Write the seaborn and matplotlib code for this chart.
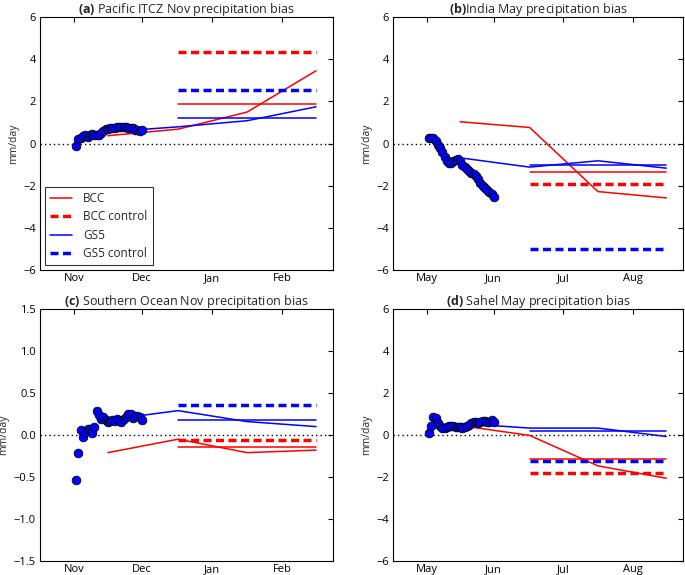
import numpy as np
import pandas as pd
import matplotlib
matplotlib.use("Agg")
import matplotlib.pyplot as plt
from matplotlib.lines import Line2D
import seaborn as sns

sns.set_style("white")
FONT = "Open Sans"
plt.rcParams["font.family"] = [FONT, "DejaVu Sans"]
plt.rcParams["mathtext.fontset"] = "custom"
plt.rcParams["mathtext.bf"] = FONT + ":bold"
plt.rcParams["mathtext.rm"] = FONT

# ---------------- data ----------------
obs_days = list(range(1, 31))
model_days = [15, 46, 76.5, 107]
mean_days = [46, 107]

titles = ["(a)", "(b)", "(c)", "(d)"]
subtitles = [" Pacific ITCZ Nov precipitation bias", "India May precipitation bias",
             " Southern Ocean Nov precipitation bias", " Sahel May precipitation bias"]
month_labels = [["Nov", "Dec", "Jan", "Feb"], ["May", "Jun", "Jul", "Aug"],
                ["Nov", "Dec", "Jan", "Feb"], ["May", "Jun", "Jul", "Aug"]]
month_ticks = [0, 30, 61, 92]

obs_a = [-0.1, 0.2, 0.28, 0.35, 0.38, 0.3, 0.38, 0.45, 0.4, 0.38, 0.42, 0.48, 0.6, 0.7, 0.68,
         0.72, 0.75, 0.75, 0.78, 0.78, 0.76, 0.78, 0.76, 0.75, 0.74, 0.72, 0.65, 0.62, 0.6, 0.62]
obs_b = [0.27, 0.27, 0.25, 0.12, -0.05, -0.2, -0.4, -0.62, -0.82, -0.92, -0.92, -0.85, -0.78, -0.74,
         -0.85, -1.02, -1.12, -1.22, -1.3, -1.38, -1.47, -1.55, -1.68, -1.85, -2.0, -2.12, -2.2,
         -2.3, -2.4, -2.54]
obs_c = [-0.53, -0.22, 0.06, -0.02, 0.03, 0.07, 0.07, 0.02, 0.1, 0.28, 0.24, 0.19, 0.22, 0.18,
         0.15, 0.17, 0.18, 0.17, 0.19, 0.18, 0.15, 0.19, 0.22, 0.25, 0.25, 0.2, 0.23, 0.23, 0.22, 0.18]
obs_d = [0.1, 0.45, 0.88, 0.8, 0.57, 0.42, 0.35, 0.35, 0.4, 0.45, 0.45, 0.42, 0.4, 0.4, 0.38,
         0.35, 0.4, 0.45, 0.5, 0.55, 0.6, 0.6, 0.55, 0.6, 0.65, 0.65, 0.6, 0.62, 0.7, 0.62]

bcc_a = [0.37, 0.68, 1.49, 3.45]
gs5_a = [0.55, 0.79, 1.08, 1.74]
bcc_b = [1.03, 0.76, -2.28, -2.58]
gs5_b = [-0.68, -1.12, -0.82, -1.17]
bcc_c = [-0.21, -0.05, -0.21, -0.18]
gs5_c = [0.18, 0.29, 0.16, 0.10]
bcc_d = [0.45, -0.02, -1.47, -2.06]
gs5_d = [0.55, 0.33, 0.33, -0.07]

bcc_mean = [1.88, -1.37, -0.145, -1.15]
gs5_mean = [1.19, -1.04, 0.18, 0.20]
bcc_ctrl = [4.32, -1.93, -0.065, -1.83]
gs5_ctrl = [2.55, -5.0, 0.36, -1.23]

obs_all = [obs_a, obs_b, obs_c, obs_d]
bcc_all = [bcc_a, bcc_b, bcc_c, bcc_d]
gs5_all = [gs5_a, gs5_b, gs5_c, gs5_d]
ylims = [(-6, 6), (-6, 6), (-1.5, 1.5), (-6, 6)]
yticks = [np.arange(-6, 7, 2), np.arange(-6, 7, 2), np.arange(-1.5, 1.51, 0.5), np.arange(-6, 7, 2)]

# ---------------- figure ----------------
W, H = 685, 575
fig = plt.figure(figsize=(W / 100, H / 100), dpi=100)
boxes = [(40, 17, 333, 270), (393, 17, 683, 270), (40, 309, 333, 561), (393, 309, 683, 561)]
RED, BLUE = "#ff0000", "#0000ff"
DASH = (0, (2.3, 1.3))

for i, (l, t, r, b) in enumerate(boxes):
    ax = fig.add_axes([l / W, (H - b) / H, (r - l) / W, (b - t) / H])
    ax.axhline(0, color="black", ls=(0, (1, 2.2)), lw=1.0, zorder=1)

    sns.lineplot(x=model_days, y=bcc_all[i], color=RED, lw=1.1, ax=ax, sort=False,
                 errorbar=None, zorder=2)
    sns.lineplot(x=model_days, y=gs5_all[i], color=BLUE, lw=1.1, ax=ax, sort=False,
                 errorbar=None, zorder=2)
    sns.lineplot(x=mean_days, y=[bcc_mean[i]] * 2, color=RED, lw=1.1, ax=ax,
                 errorbar=None, zorder=2)
    sns.lineplot(x=mean_days, y=[gs5_mean[i]] * 2, color=BLUE, lw=1.1, ax=ax,
                 errorbar=None, zorder=2)
    sns.lineplot(x=mean_days, y=[bcc_ctrl[i]] * 2, color=RED, lw=2.5, linestyle=DASH,
                 ax=ax, errorbar=None, zorder=2)
    sns.lineplot(x=mean_days, y=[gs5_ctrl[i]] * 2, color=BLUE, lw=2.5, linestyle=DASH,
                 ax=ax, errorbar=None, zorder=2)
    sns.scatterplot(x=obs_days, y=obs_all[i], color=BLUE, edgecolor="black", linewidth=0.5,
                    s=40, ax=ax, zorder=3)

    ax.set_xlim(-15, 114.5)
    ax.set_ylim(*ylims[i])
    ax.set_xticks(month_ticks)
    ax.set_xticklabels(month_labels[i])
    ax.set_yticks(yticks[i])
    if i == 2:
        ax.set_yticklabels([f"{v:.1f}".replace("-", "\u2212") for v in yticks[i]])
    else:
        ax.set_yticklabels([f"{int(v)}".replace("-", "\u2212") for v in yticks[i]])
    ax.tick_params(direction="in", top=True, right=True, length=3.5, width=0.8,
                   labelsize=8, colors="black")
    ax.tick_params(axis="x", pad=2)
    ax.tick_params(axis="y", pad=3)
    for sp in ax.spines.values():
        sp.set_visible(True)
        sp.set_color("black")
        sp.set_linewidth(0.8)
    ax.set_ylabel("mm/day", fontsize=7.5, labelpad=3)
    ax.set_xlabel("")
    ax.set_title(r"$\bf{" + titles[i] + "}$" + subtitles[i], fontsize=9, pad=3)

    if i == 0:
        handles = [Line2D([], [], color=RED, lw=1.1),
                   Line2D([], [], color=RED, lw=2.5, linestyle=DASH),
                   Line2D([], [], color=BLUE, lw=1.1),
                   Line2D([], [], color=BLUE, lw=2.5, linestyle=DASH)]
        leg = ax.legend(handles, ["BCC", "BCC control", "GS5", "GS5 control"],
                        loc="lower left", fontsize=8.5, frameon=True, fancybox=False,
                        edgecolor="black", handlelength=1.9, labelspacing=0.45,
                        borderaxespad=0.4, handletextpad=0.9, borderpad=0.45)
        leg.get_frame().set_linewidth(0.8)
    else:
        if ax.get_legend() is not None:
            ax.get_legend().remove()

fig.savefig("out.png", dpi=100)
